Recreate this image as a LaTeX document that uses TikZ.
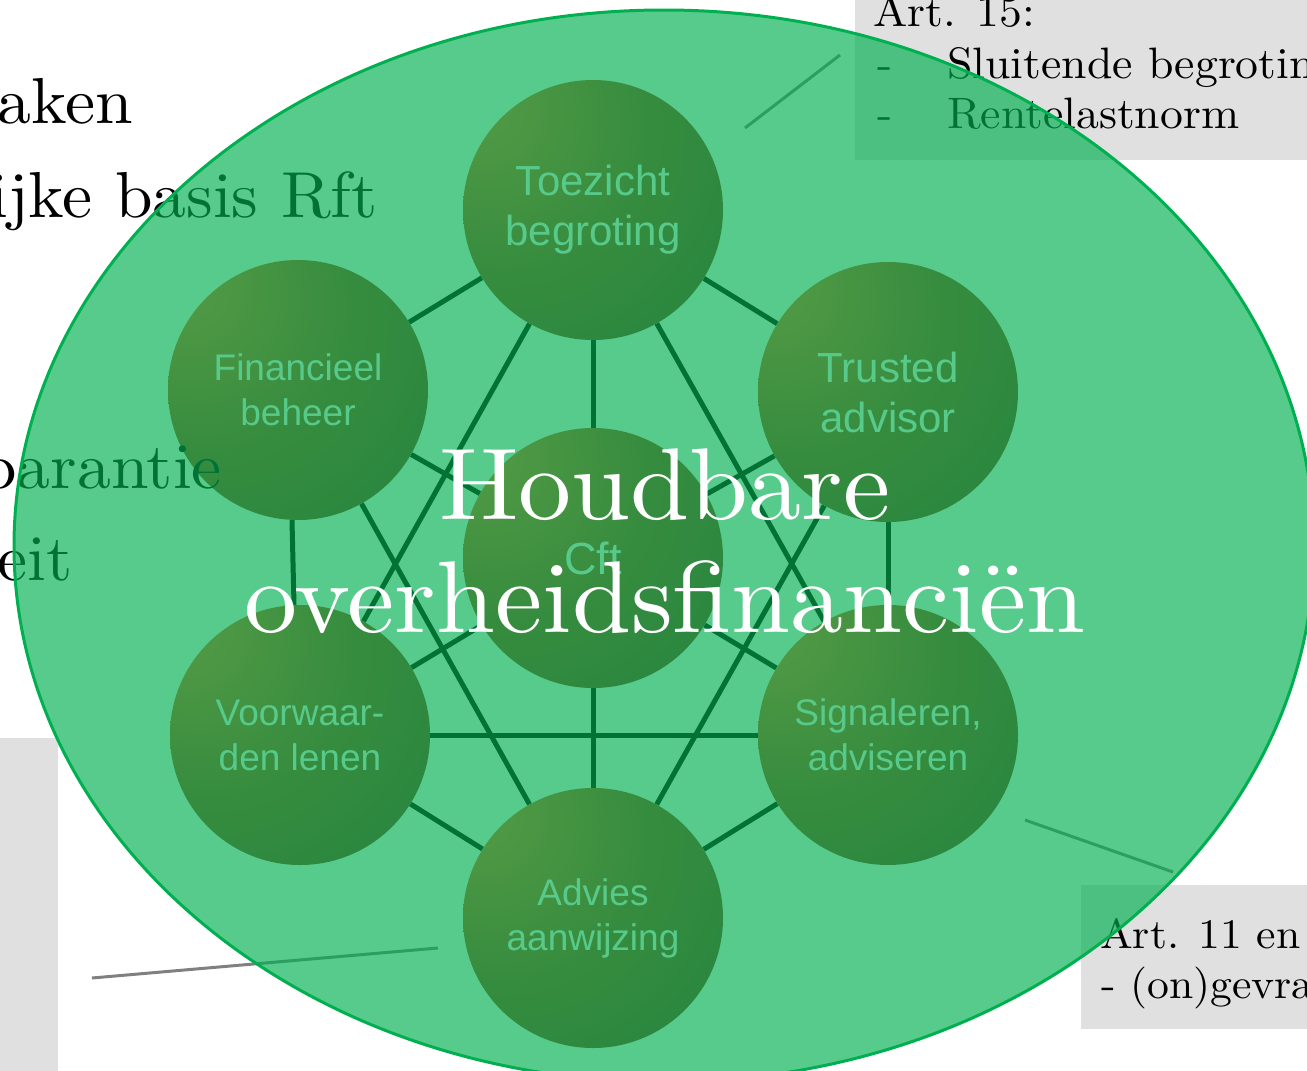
\documentclass[tikz,border=0pt]{standalone}
\usepackage{fontspec}
\setmainfont{lmroman10-regular.otf}[FakeStretch=1.04]
\newfontfamily\arialfont{Liberation Sans}
\usetikzlibrary{positioning}

\definecolor{ovalgreen}{HTML}{00B050}
\definecolor{ballLight}{RGB}{249,117,50}
\definecolor{ballMid}{RGB}{160,72,30}
\definecolor{ballDark}{RGB}{98,48,33}
\definecolor{boxgrey}{HTML}{E0E0E0}
\definecolor{calloutgrey}{HTML}{808080}

\pgfdeclareradialshading{ballshade}{\pgfpoint{-24bp}{22bp}}{color(0bp)=(ballLight); color(28bp)=(ballMid); color(58bp)=(ballDark); color(100bp)=(ballDark)}
\pgfdeclarelayer{bg}
\pgfdeclarelayer{fg}
\pgfsetlayers{bg,main,fg}

\tikzstyle{ball} = [circle, minimum size=260pt, inner sep=0pt, shade, shading=ballshade, text=white, align=center, font=\arialfont\fontsize{37}{45}\selectfont]
\tikzstyle{bigball} = [ball, font=\arialfont\fontsize{42}{50}\selectfont]
\tikzstyle{link} = [draw, black, line width=5pt]
\tikzstyle{callout} = [draw, calloutgrey, line width=3pt]
\tikzstyle{bgtext} = [anchor=base east, inner sep=0pt, font=\fontsize{65}{75}\selectfont]
\tikzstyle{boxtext} = [anchor=base west, inner sep=0pt, font=\fontsize{44}{50}\selectfont]

\begin{document}
\begin{tikzpicture}[x=1pt, y=-1pt]
    \useasboundingbox (0,0) rectangle (1307,1071);

    % circles
    \node[bigball] (toezicht) at (593,210) {Toezicht\\begroting};
    \node[ball] (financieel) at (298,390) {Financieel\\beheer};
    \node[bigball] (trusted) at (888,392) {Trusted\\advisor};
    \node[ball, font=\arialfont\fontsize{45}{50}\selectfont] (cft) at (593,558) {Cft};
    \node[ball] (voorwaarden) at (300,735) {Voorwaar-\\den lenen};
    \node[ball] (signaleren) at (888,735) {Signaleren,\\adviseren};
    \node[ball] (advies) at (593,918) {Advies\\aanwijzing};

    % text behind the oval
    \node[bgtext] (taken) at (133,123) {aken};
    \node[bgtext] (basis) at (378,217) {ijke basis Rft};
    \node[bgtext] (garantie) at (222,488) {parantie};
    \node[bgtext] (eit) at (73,580) {eit};

    \begin{pgfonlayer}{bg}
        % grey boxes
        \fill[boxgrey] (-10,738) rectangle (58,1090);
        \fill[boxgrey] (855,-10) rectangle (1320,160);
        \fill[boxgrey] (1081,885) rectangle (1320,1029);
        \node[boxtext] (art15) at (873,26) {Art. 15:};
        \node[boxtext] (dash1) at (877,78) {-};
        \node[boxtext] (sluitend) at (947,78) {Sluitende begrotin};
        \node[boxtext] (dash2) at (877,128) {-};
        \node[boxtext] (rente) at (947,128) {Rentelastnorm};
        \node[boxtext, font=\fontsize{42}{50}\selectfont] (art11) at (1100,948) {Art. 11 en};
        \node[boxtext, font=\fontsize{42}{50}\selectfont] (gevraagd) at (1101,998) {- (on)gevra};

        % callouts
        \coordinate (c1a) at (745,128);
        \coordinate (c1b) at (840,55);
        \coordinate (c2a) at (1025,820);
        \coordinate (c2b) at (1173,872);
        \coordinate (c3a) at (438,948);
        \coordinate (c3b) at (92,978);
        \draw[callout] (c1a) -- (c1b);
        \draw[callout] (c2a) -- (c2b);
        \draw[callout] (c3a) -- (c3b);

        % links
        \draw[link] (toezicht) -- (financieel);
        \draw[link] (toezicht) -- (trusted);
        \draw[link] (trusted) -- (signaleren);
        \draw[link] (signaleren) -- (advies);
        \draw[link] (advies) -- (voorwaarden);
        \draw[link] ([xshift=-6pt]voorwaarden.north) -- ([xshift=-6pt]financieel.south);
        \draw[link] (cft) -- (toezicht);
        \draw[link] (cft) -- (financieel);
        \draw[link] (cft) -- (trusted);
        \draw[link] (cft) -- (voorwaarden);
        \draw[link] (cft) -- (signaleren);
        \draw[link] (cft) -- (advies);
        \draw[link] (toezicht) -- (voorwaarden);
        \draw[link] (toezicht) -- (signaleren);
        \draw[link] (voorwaarden) -- (signaleren);
        \draw[link] (financieel) -- (advies);
        \draw[link] (trusted) -- (advies);
    \end{pgfonlayer}

    \begin{pgfonlayer}{fg}
        \fill[ovalgreen, fill opacity=0.66] (664,546) ellipse [x radius=650pt, y radius=536pt];
        \draw[ovalgreen, line width=3pt] (664,546) ellipse [x radius=650pt, y radius=536pt];
        \node[font=\fontsize{102}{113}\selectfont, text=white, align=center] (title) at (665,541) {Houdbare\\overheidsfinanci\"en};
    \end{pgfonlayer}
\end{tikzpicture}
\end{document}
